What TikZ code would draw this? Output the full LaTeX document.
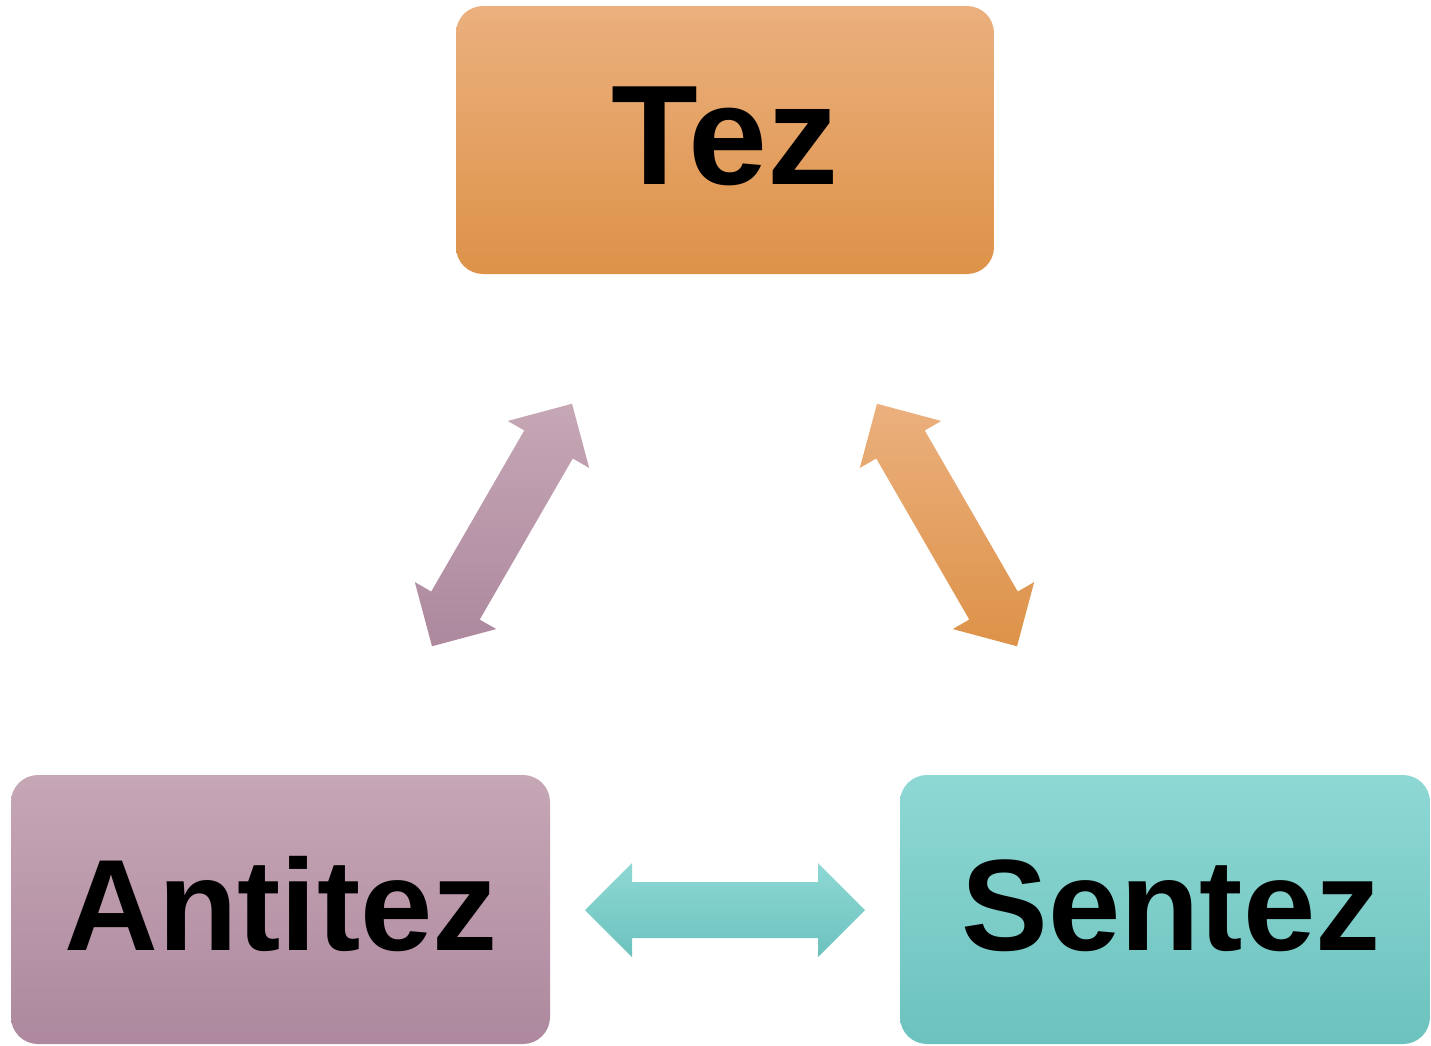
\documentclass[tikz,border=0pt]{standalone}
\usepackage{fontspec}
\setmainfont{Liberation Sans}
\usetikzlibrary{calc}
\definecolor{orT}{HTML}{EBB07E}\definecolor{orM}{HTML}{F0A862}\definecolor{orB}{HTML}{DD9248}
\definecolor{puT}{HTML}{C6A7B5}\definecolor{puM}{HTML}{BF9AAE}\definecolor{puB}{HTML}{AD889E}
\definecolor{teT}{HTML}{8ED8D4}\definecolor{teM}{HTML}{7DD5D0}\definecolor{teB}{HTML}{6CC2BE}
\newcommand\dblarr[3]{%
  \path[#3] ($(#1)+(#2:140)$)
    -- ($(#1)+(#2:93)+({#2+90}:47)$) -- ($(#1)+(#2:93)+({#2+90}:28)$)
    -- ($(#1)+({#2+180}:93)+({#2+90}:28)$) -- ($(#1)+({#2+180}:93)+({#2+90}:47)$)
    -- ($(#1)+({#2+180}:140)$)
    -- ($(#1)+({#2+180}:93)+({#2-90}:47)$) -- ($(#1)+({#2+180}:93)+({#2-90}:28)$)
    -- ($(#1)+(#2:93)+({#2-90}:28)$) -- ($(#1)+(#2:93)+({#2-90}:47)$) -- cycle;}
\begin{document}
\begin{tikzpicture}[x=1pt,y=-1pt,
  box/.style={rounded corners=27pt, inner sep=0pt, minimum height=268pt},
  orfill/.style={top color=orT, middle color=orM, bottom color=orB},
  pufill/.style={top color=puT, middle color=puM, bottom color=puB},
  tefill/.style={top color=teT, middle color=teM, bottom color=teB},
  lbl/.style={anchor=base, inner sep=0pt, font=\bfseries\fontsize{130}{140}\selectfont}]
\useasboundingbox (0,0) rectangle (1431,1045);
\node[box, orfill, minimum width=538pt] (tez) at (725,140) {};
\node[box, pufill, minimum width=539pt, minimum height=269pt] (antitez) at (280.5,909.5) {};
\node[box, tefill, minimum width=530pt, minimum height=269pt] (sentez) at (1165,909.5) {};
\node[lbl, font=\bfseries\fontsize{142}{150}\selectfont] (teztxt) at (725,184) {Tez};
\node[lbl] (antiteztxt) at (281,950) {Antitez};
\node[lbl] (senteztxt) at (1171,950) {Sentez};
\coordinate (pa) at (502,525);
\coordinate (oa) at (947,525);
\coordinate (ta) at (725,910);
\dblarr{pa}{-60}{pufill}
\dblarr{oa}{240}{orfill}
\dblarr{ta}{0}{tefill}
\end{tikzpicture}
\end{document}
